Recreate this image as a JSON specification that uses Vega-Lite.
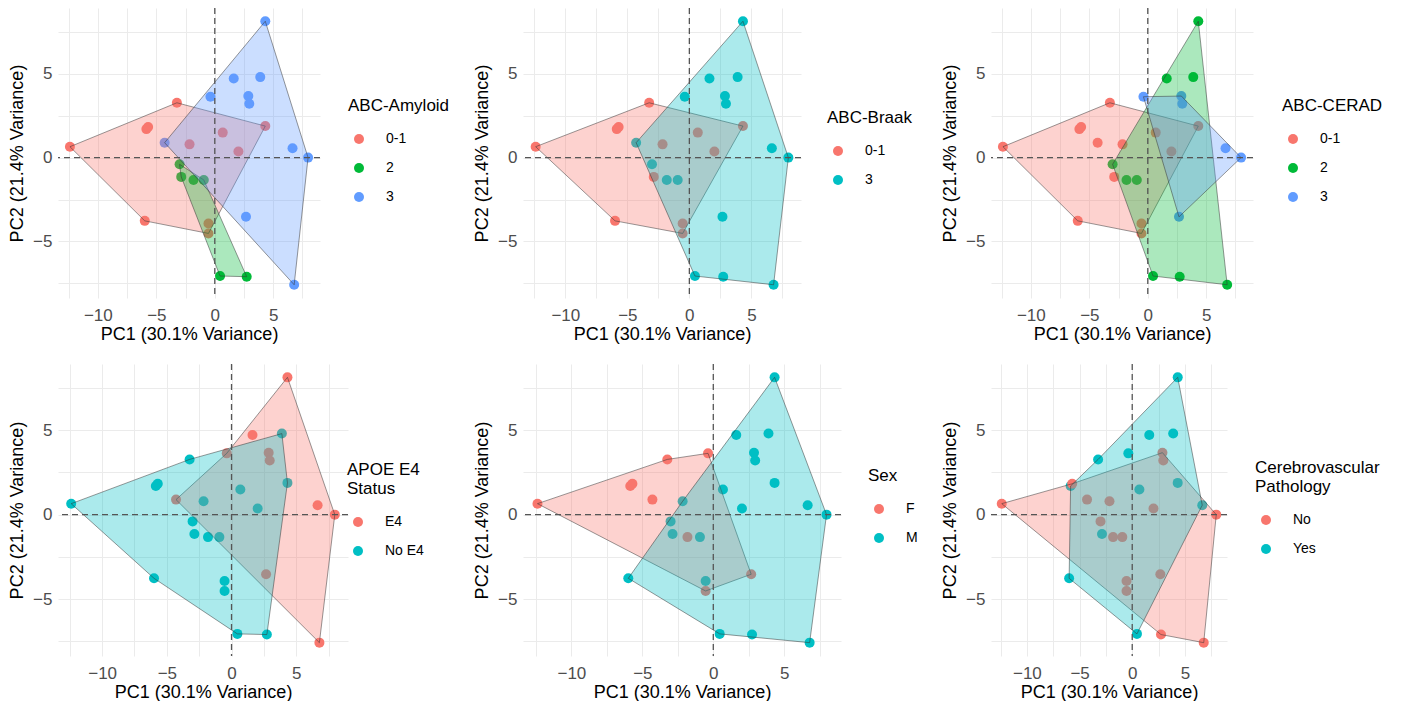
{
  "$schema": "https://vega.github.io/schema/vega-lite/v6.json",
  "padding": {"left": 8, "top": 7, "right": 0, "bottom": 0},
  "autosize": {"type": "pad"},
  "background": "white",
  "columns": 3,
  "align": "each",
  "spacing": {"row": 20, "column": 23},
  "datasets": {
    "pts": [
      {"id": 1, "pc1": -12.39, "pc2": 0.65, "amyloid": "0-1", "braak": "0-1", "cerad": "0-1", "apoe": "No E4", "sex": "F", "cv": "No"},
      {"id": 2, "pc1": -5.85, "pc2": 1.7, "amyloid": "0-1", "braak": "0-1", "cerad": "0-1", "apoe": "No E4", "sex": "F", "cv": "Yes"},
      {"id": 3, "pc1": -5.7, "pc2": 1.83, "amyloid": "0-1", "braak": "0-1", "cerad": "0-1", "apoe": "No E4", "sex": "F", "cv": "No"},
      {"id": 4, "pc1": -3.24, "pc2": 3.27, "amyloid": "0-1", "braak": "0-1", "cerad": "0-1", "apoe": "No E4", "sex": "F", "cv": "Yes"},
      {"id": 5, "pc1": -5.99, "pc2": -3.77, "amyloid": "0-1", "braak": "0-1", "cerad": "0-1", "apoe": "No E4", "sex": "M", "cv": "Yes"},
      {"id": 6, "pc1": -2.16, "pc2": 0.79, "amyloid": "0-1", "braak": "0-1", "cerad": "0-1", "apoe": "No E4", "sex": "M", "cv": "No"},
      {"id": 7, "pc1": 0.68, "pc2": 1.49, "amyloid": "0-1", "braak": "0-1", "cerad": "0-1", "apoe": "No E4", "sex": "M", "cv": "Yes"},
      {"id": 8, "pc1": 2.02, "pc2": 0.36, "amyloid": "0-1", "braak": "0-1", "cerad": "0-1", "apoe": "No E4", "sex": "M", "cv": "No"},
      {"id": 9, "pc1": 4.32, "pc2": 1.88, "amyloid": "0-1", "braak": "0-1", "cerad": "0-1", "apoe": "No E4", "sex": "M", "cv": "Yes"},
      {"id": 10, "pc1": -0.54, "pc2": -3.93, "amyloid": "0-1", "braak": "0-1", "cerad": "0-1", "apoe": "No E4", "sex": "M", "cv": "No"},
      {"id": 11, "pc1": -0.54, "pc2": -4.52, "amyloid": "0-1", "braak": "0-1", "cerad": "0-1", "apoe": "No E4", "sex": "F", "cv": "No"},
      {"id": 12, "pc1": -3.01, "pc2": -0.4, "amyloid": "2", "braak": "3", "cerad": "2", "apoe": "No E4", "sex": "M", "cv": "No"},
      {"id": 13, "pc1": -2.87, "pc2": -1.15, "amyloid": "2", "braak": "0-1", "cerad": "0-1", "apoe": "No E4", "sex": "M", "cv": "Yes"},
      {"id": 14, "pc1": -1.82, "pc2": -1.33, "amyloid": "2", "braak": "3", "cerad": "2", "apoe": "No E4", "sex": "F", "cv": "No"},
      {"id": 15, "pc1": -0.94, "pc2": -1.33, "amyloid": "2", "braak": "3", "cerad": "2", "apoe": "No E4", "sex": "M", "cv": "No"},
      {"id": 16, "pc1": 0.45, "pc2": -7.06, "amyloid": "2", "braak": "3", "cerad": "2", "apoe": "No E4", "sex": "M", "cv": "Yes"},
      {"id": 17, "pc1": 2.73, "pc2": -7.1, "amyloid": "2", "braak": "3", "cerad": "2", "apoe": "No E4", "sex": "M", "cv": "No"},
      {"id": 18, "pc1": 4.32, "pc2": 8.13, "amyloid": "3", "braak": "3", "cerad": "2", "apoe": "E4", "sex": "M", "cv": "Yes"},
      {"id": 19, "pc1": 1.62, "pc2": 4.72, "amyloid": "3", "braak": "3", "cerad": "2", "apoe": "E4", "sex": "M", "cv": "Yes"},
      {"id": 20, "pc1": 3.89, "pc2": 4.8, "amyloid": "3", "braak": "3", "cerad": "2", "apoe": "No E4", "sex": "M", "cv": "Yes"},
      {"id": 21, "pc1": -0.37, "pc2": 3.63, "amyloid": "3", "braak": "3", "cerad": "3", "apoe": "E4", "sex": "F", "cv": "Yes"},
      {"id": 22, "pc1": 2.87, "pc2": 3.67, "amyloid": "3", "braak": "3", "cerad": "3", "apoe": "E4", "sex": "M", "cv": "No"},
      {"id": 23, "pc1": 2.95, "pc2": 3.21, "amyloid": "3", "braak": "3", "cerad": "3", "apoe": "E4", "sex": "M", "cv": "No"},
      {"id": 24, "pc1": -4.29, "pc2": 0.89, "amyloid": "3", "braak": "3", "cerad": "0-1", "apoe": "E4", "sex": "F", "cv": "No"},
      {"id": 25, "pc1": 6.65, "pc2": 0.56, "amyloid": "3", "braak": "3", "cerad": "3", "apoe": "E4", "sex": "M", "cv": "Yes"},
      {"id": 26, "pc1": 7.98, "pc2": 0.0, "amyloid": "3", "braak": "3", "cerad": "3", "apoe": "E4", "sex": "M", "cv": "No"},
      {"id": 27, "pc1": 2.67, "pc2": -3.53, "amyloid": "3", "braak": "3", "cerad": "3", "apoe": "E4", "sex": "F", "cv": "No"},
      {"id": 28, "pc1": 6.79, "pc2": -7.58, "amyloid": "3", "braak": "3", "cerad": "2", "apoe": "E4", "sex": "M", "cv": "No"}
    ],
    "hulls": [
      {"panel": "amyloid", "grp": "0-1", "ord": 1, "pc1": -12.39, "pc2": 0.65},
      {"panel": "amyloid", "grp": "0-1", "ord": 2, "pc1": -3.24, "pc2": 3.27},
      {"panel": "amyloid", "grp": "0-1", "ord": 3, "pc1": 4.32, "pc2": 1.88},
      {"panel": "amyloid", "grp": "0-1", "ord": 4, "pc1": -0.54, "pc2": -4.52},
      {"panel": "amyloid", "grp": "0-1", "ord": 5, "pc1": -5.99, "pc2": -3.77},
      {"panel": "amyloid", "grp": "2", "ord": 1, "pc1": -3.01, "pc2": -0.4},
      {"panel": "amyloid", "grp": "2", "ord": 2, "pc1": -0.94, "pc2": -1.33},
      {"panel": "amyloid", "grp": "2", "ord": 3, "pc1": 2.73, "pc2": -7.1},
      {"panel": "amyloid", "grp": "2", "ord": 4, "pc1": 0.45, "pc2": -7.06},
      {"panel": "amyloid", "grp": "2", "ord": 5, "pc1": -2.87, "pc2": -1.15},
      {"panel": "amyloid", "grp": "3", "ord": 1, "pc1": 4.32, "pc2": 8.13},
      {"panel": "amyloid", "grp": "3", "ord": 2, "pc1": 7.98, "pc2": 0.0},
      {"panel": "amyloid", "grp": "3", "ord": 3, "pc1": 6.79, "pc2": -7.58},
      {"panel": "amyloid", "grp": "3", "ord": 4, "pc1": -4.29, "pc2": 0.89},
      {"panel": "braak", "grp": "0-1", "ord": 1, "pc1": -12.39, "pc2": 0.65},
      {"panel": "braak", "grp": "0-1", "ord": 2, "pc1": -3.24, "pc2": 3.27},
      {"panel": "braak", "grp": "0-1", "ord": 3, "pc1": 4.32, "pc2": 1.88},
      {"panel": "braak", "grp": "0-1", "ord": 4, "pc1": -0.54, "pc2": -4.52},
      {"panel": "braak", "grp": "0-1", "ord": 5, "pc1": -5.99, "pc2": -3.77},
      {"panel": "braak", "grp": "3", "ord": 1, "pc1": 4.32, "pc2": 8.13},
      {"panel": "braak", "grp": "3", "ord": 2, "pc1": 7.98, "pc2": 0.0},
      {"panel": "braak", "grp": "3", "ord": 3, "pc1": 6.79, "pc2": -7.58},
      {"panel": "braak", "grp": "3", "ord": 4, "pc1": 0.45, "pc2": -7.06},
      {"panel": "braak", "grp": "3", "ord": 5, "pc1": -4.29, "pc2": 0.89},
      {"panel": "cerad", "grp": "0-1", "ord": 1, "pc1": -12.39, "pc2": 0.65},
      {"panel": "cerad", "grp": "0-1", "ord": 2, "pc1": -3.24, "pc2": 3.27},
      {"panel": "cerad", "grp": "0-1", "ord": 3, "pc1": 4.32, "pc2": 1.88},
      {"panel": "cerad", "grp": "0-1", "ord": 4, "pc1": -0.54, "pc2": -4.52},
      {"panel": "cerad", "grp": "0-1", "ord": 5, "pc1": -5.99, "pc2": -3.77},
      {"panel": "cerad", "grp": "2", "ord": 1, "pc1": 4.32, "pc2": 8.13},
      {"panel": "cerad", "grp": "2", "ord": 2, "pc1": 6.79, "pc2": -7.58},
      {"panel": "cerad", "grp": "2", "ord": 3, "pc1": 0.45, "pc2": -7.06},
      {"panel": "cerad", "grp": "2", "ord": 4, "pc1": -3.01, "pc2": -0.4},
      {"panel": "cerad", "grp": "3", "ord": 1, "pc1": -0.37, "pc2": 3.63},
      {"panel": "cerad", "grp": "3", "ord": 2, "pc1": 2.87, "pc2": 3.67},
      {"panel": "cerad", "grp": "3", "ord": 3, "pc1": 7.98, "pc2": 0.0},
      {"panel": "cerad", "grp": "3", "ord": 4, "pc1": 2.67, "pc2": -3.53},
      {"panel": "apoe", "grp": "E4", "ord": 1, "pc1": 4.32, "pc2": 8.13},
      {"panel": "apoe", "grp": "E4", "ord": 2, "pc1": 7.98, "pc2": 0.0},
      {"panel": "apoe", "grp": "E4", "ord": 3, "pc1": 6.79, "pc2": -7.58},
      {"panel": "apoe", "grp": "E4", "ord": 4, "pc1": -4.29, "pc2": 0.89},
      {"panel": "apoe", "grp": "E4", "ord": 5, "pc1": -0.37, "pc2": 3.63},
      {"panel": "apoe", "grp": "No E4", "ord": 1, "pc1": -12.39, "pc2": 0.65},
      {"panel": "apoe", "grp": "No E4", "ord": 2, "pc1": -3.24, "pc2": 3.27},
      {"panel": "apoe", "grp": "No E4", "ord": 3, "pc1": 3.89, "pc2": 4.8},
      {"panel": "apoe", "grp": "No E4", "ord": 4, "pc1": 4.32, "pc2": 1.88},
      {"panel": "apoe", "grp": "No E4", "ord": 5, "pc1": 2.73, "pc2": -7.1},
      {"panel": "apoe", "grp": "No E4", "ord": 6, "pc1": 0.45, "pc2": -7.06},
      {"panel": "apoe", "grp": "No E4", "ord": 7, "pc1": -5.99, "pc2": -3.77},
      {"panel": "sex", "grp": "F", "ord": 1, "pc1": -12.39, "pc2": 0.65},
      {"panel": "sex", "grp": "F", "ord": 2, "pc1": -3.24, "pc2": 3.27},
      {"panel": "sex", "grp": "F", "ord": 3, "pc1": -0.37, "pc2": 3.63},
      {"panel": "sex", "grp": "F", "ord": 4, "pc1": 2.67, "pc2": -3.53},
      {"panel": "sex", "grp": "F", "ord": 5, "pc1": -0.54, "pc2": -4.52},
      {"panel": "sex", "grp": "M", "ord": 1, "pc1": 4.32, "pc2": 8.13},
      {"panel": "sex", "grp": "M", "ord": 2, "pc1": 7.98, "pc2": 0.0},
      {"panel": "sex", "grp": "M", "ord": 3, "pc1": 6.79, "pc2": -7.58},
      {"panel": "sex", "grp": "M", "ord": 4, "pc1": 0.45, "pc2": -7.06},
      {"panel": "sex", "grp": "M", "ord": 5, "pc1": -5.99, "pc2": -3.77},
      {"panel": "sex", "grp": "M", "ord": 6, "pc1": -2.16, "pc2": 0.79},
      {"panel": "cv", "grp": "No", "ord": 1, "pc1": -12.39, "pc2": 0.65},
      {"panel": "cv", "grp": "No", "ord": 2, "pc1": -5.7, "pc2": 1.83},
      {"panel": "cv", "grp": "No", "ord": 3, "pc1": 2.87, "pc2": 3.67},
      {"panel": "cv", "grp": "No", "ord": 4, "pc1": 7.98, "pc2": 0.0},
      {"panel": "cv", "grp": "No", "ord": 5, "pc1": 6.79, "pc2": -7.58},
      {"panel": "cv", "grp": "No", "ord": 6, "pc1": 2.73, "pc2": -7.1},
      {"panel": "cv", "grp": "Yes", "ord": 1, "pc1": 4.32, "pc2": 8.13},
      {"panel": "cv", "grp": "Yes", "ord": 2, "pc1": 6.65, "pc2": 0.56},
      {"panel": "cv", "grp": "Yes", "ord": 3, "pc1": 0.45, "pc2": -7.06},
      {"panel": "cv", "grp": "Yes", "ord": 4, "pc1": -5.99, "pc2": -3.77},
      {"panel": "cv", "grp": "Yes", "ord": 5, "pc1": -5.85, "pc2": 1.7},
      {"panel": "cv", "grp": "Yes", "ord": 6, "pc1": -3.24, "pc2": 3.27}
    ]
  },
  "concat": [
    {
      "width": 262, "height": 290,
      "resolve": {"axis": {"x": "independent"}},
      "layer": [
        {"data": {"name": "pts"}, "mark": {"type": "circle", "size": 100, "opacity": 1},
         "encoding": {
           "x": {"field": "pc1", "type": "quantitative", "scale": {"domain": [-13.41, 9.0], "nice": false, "zero": false}, "axis": {"title": "PC1 (30.1% Variance)", "values": [-10, -5, 0, 5], "orient": "bottom"}},
           "y": {"field": "pc2", "type": "quantitative", "scale": {"domain": [-8.37, 8.92], "nice": false, "zero": false}, "axis": {"title": "PC2 (21.4% Variance)", "values": [-7.5, -5, -2.5, 0, 2.5, 5, 7.5], "labelOverlap": false, "labelExpr": "datum.value % 5 == 0 ? datum.label : ''"}},
           "color": {"field": "amyloid", "type": "nominal", "scale": {"domain": ["0-1", "2", "3"], "range": ["#F8766D", "#00BA38", "#619CFF"]}, "legend": {"title": "ABC-Amyloid", "orient": "none", "legendX": 290, "legendY": 90}}
         }},
        {"data": {"name": "hulls"}, "transform": [{"filter": "datum.panel == 'amyloid'"}],
         "mark": {"type": "line", "interpolate": "linear-closed", "fillOpacity": 0.33, "stroke": "#333333", "strokeOpacity": 0.5, "strokeWidth": 1},
         "encoding": {
           "x": {"field": "pc1", "type": "quantitative", "axis": null},
           "y": {"field": "pc2", "type": "quantitative"},
           "order": {"field": "ord", "type": "quantitative"},
           "detail": {"field": "grp", "type": "nominal"},
           "fill": {"field": "grp", "type": "nominal", "scale": {"domain": ["0-1", "2", "3"], "range": ["#F8766D", "#00BA38", "#619CFF"]}, "legend": null}
         }},
        {"data": {"values": [{}]}, "mark": {"type": "rule", "strokeDash": [6, 4], "color": "#555555", "strokeWidth": 1.3}, "encoding": {"x": {"datum": 0, "type": "quantitative", "axis": {"orient": "top", "values": [-12.5, -7.5, -2.5, 2.5, 7.5], "labels": false, "title": null, "grid": true}}}},
        {"data": {"values": [{}]}, "mark": {"type": "rule", "strokeDash": [6, 4], "color": "#555555", "strokeWidth": 1.3}, "encoding": {"y": {"datum": 0}}}
      ]
    },
    {
      "width": 278, "height": 290,
      "resolve": {"axis": {"x": "independent"}},
      "layer": [
        {"data": {"name": "pts"}, "mark": {"type": "circle", "size": 100, "opacity": 1},
         "encoding": {
           "x": {"field": "pc1", "type": "quantitative", "scale": {"domain": [-13.41, 9.0], "nice": false, "zero": false}, "axis": {"title": "PC1 (30.1% Variance)", "values": [-10, -5, 0, 5], "orient": "bottom"}},
           "y": {"field": "pc2", "type": "quantitative", "scale": {"domain": [-8.37, 8.92], "nice": false, "zero": false}, "axis": {"title": "PC2 (21.4% Variance)", "values": [-7.5, -5, -2.5, 0, 2.5, 5, 7.5], "labelOverlap": false, "labelExpr": "datum.value % 5 == 0 ? datum.label : ''"}},
           "color": {"field": "braak", "type": "nominal", "scale": {"domain": ["0-1", "3"], "range": ["#F8766D", "#00BFC4"]}, "legend": {"title": "ABC-Braak", "orient": "none", "legendX": 304, "legendY": 102}}
         }},
        {"data": {"name": "hulls"}, "transform": [{"filter": "datum.panel == 'braak'"}],
         "mark": {"type": "line", "interpolate": "linear-closed", "fillOpacity": 0.33, "stroke": "#333333", "strokeOpacity": 0.5, "strokeWidth": 1},
         "encoding": {
           "x": {"field": "pc1", "type": "quantitative", "axis": null},
           "y": {"field": "pc2", "type": "quantitative"},
           "order": {"field": "ord", "type": "quantitative"},
           "detail": {"field": "grp", "type": "nominal"},
           "fill": {"field": "grp", "type": "nominal", "scale": {"domain": ["0-1", "3"], "range": ["#F8766D", "#00BFC4"]}, "legend": null}
         }},
        {"data": {"values": [{}]}, "mark": {"type": "rule", "strokeDash": [6, 4], "color": "#555555", "strokeWidth": 1.3}, "encoding": {"x": {"datum": 0, "type": "quantitative", "axis": {"orient": "top", "values": [-12.5, -7.5, -2.5, 2.5, 7.5], "labels": false, "title": null, "grid": true}}}},
        {"data": {"values": [{}]}, "mark": {"type": "rule", "strokeDash": [6, 4], "color": "#555555", "strokeWidth": 1.3}, "encoding": {"y": {"datum": 0}}}
      ]
    },
    {
      "width": 262, "height": 290,
      "resolve": {"axis": {"x": "independent"}},
      "layer": [
        {"data": {"name": "pts"}, "mark": {"type": "circle", "size": 100, "opacity": 1},
         "encoding": {
           "x": {"field": "pc1", "type": "quantitative", "scale": {"domain": [-13.41, 9.0], "nice": false, "zero": false}, "axis": {"title": "PC1 (30.1% Variance)", "values": [-10, -5, 0, 5], "orient": "bottom"}},
           "y": {"field": "pc2", "type": "quantitative", "scale": {"domain": [-8.37, 8.92], "nice": false, "zero": false}, "axis": {"title": "PC2 (21.4% Variance)", "values": [-7.5, -5, -2.5, 0, 2.5, 5, 7.5], "labelOverlap": false, "labelExpr": "datum.value % 5 == 0 ? datum.label : ''"}},
           "color": {"field": "cerad", "type": "nominal", "scale": {"domain": ["0-1", "2", "3"], "range": ["#F8766D", "#00BA38", "#619CFF"]}, "legend": {"title": "ABC-CERAD", "orient": "none", "legendX": 291, "legendY": 90}}
         }},
        {"data": {"name": "hulls"}, "transform": [{"filter": "datum.panel == 'cerad'"}],
         "mark": {"type": "line", "interpolate": "linear-closed", "fillOpacity": 0.33, "stroke": "#333333", "strokeOpacity": 0.5, "strokeWidth": 1},
         "encoding": {
           "x": {"field": "pc1", "type": "quantitative", "axis": null},
           "y": {"field": "pc2", "type": "quantitative"},
           "order": {"field": "ord", "type": "quantitative"},
           "detail": {"field": "grp", "type": "nominal"},
           "fill": {"field": "grp", "type": "nominal", "scale": {"domain": ["0-1", "2", "3"], "range": ["#F8766D", "#00BA38", "#619CFF"]}, "legend": null}
         }},
        {"data": {"values": [{}]}, "mark": {"type": "rule", "strokeDash": [6, 4], "color": "#555555", "strokeWidth": 1.3}, "encoding": {"x": {"datum": 0, "type": "quantitative", "axis": {"orient": "top", "values": [-12.5, -7.5, -2.5, 2.5, 7.5], "labels": false, "title": null, "grid": true}}}},
        {"data": {"values": [{}]}, "mark": {"type": "rule", "strokeDash": [6, 4], "color": "#555555", "strokeWidth": 1.3}, "encoding": {"y": {"datum": 0}}}
      ]
    },
    {
      "width": 290, "height": 292,
      "resolve": {"axis": {"x": "independent"}},
      "layer": [
        {"data": {"name": "pts"}, "mark": {"type": "circle", "size": 100, "opacity": 1},
         "encoding": {
           "x": {"field": "pc1", "type": "quantitative", "scale": {"domain": [-13.41, 9.0], "nice": false, "zero": false}, "axis": {"title": "PC1 (30.1% Variance)", "values": [-10, -5, 0, 5], "orient": "bottom"}},
           "y": {"field": "pc2", "type": "quantitative", "scale": {"domain": [-8.37, 8.92], "nice": false, "zero": false}, "axis": {"title": "PC2 (21.4% Variance)", "values": [-7.5, -5, -2.5, 0, 2.5, 5, 7.5], "labelOverlap": false, "labelExpr": "datum.value % 5 == 0 ? datum.label : ''"}},
           "color": {"field": "apoe", "type": "nominal", "scale": {"domain": ["E4", "No E4"], "range": ["#F8766D", "#00BFC4"]}, "legend": {"title": ["APOE E4", "Status"], "orient": "none", "legendX": 289, "legendY": 98}}
         }},
        {"data": {"name": "hulls"}, "transform": [{"filter": "datum.panel == 'apoe'"}],
         "mark": {"type": "line", "interpolate": "linear-closed", "fillOpacity": 0.33, "stroke": "#333333", "strokeOpacity": 0.5, "strokeWidth": 1},
         "encoding": {
           "x": {"field": "pc1", "type": "quantitative", "axis": null},
           "y": {"field": "pc2", "type": "quantitative"},
           "order": {"field": "ord", "type": "quantitative"},
           "detail": {"field": "grp", "type": "nominal"},
           "fill": {"field": "grp", "type": "nominal", "scale": {"domain": ["E4", "No E4"], "range": ["#F8766D", "#00BFC4"]}, "legend": null}
         }},
        {"data": {"values": [{}]}, "mark": {"type": "rule", "strokeDash": [6, 4], "color": "#555555", "strokeWidth": 1.3}, "encoding": {"x": {"datum": 0, "type": "quantitative", "axis": {"orient": "top", "values": [-12.5, -7.5, -2.5, 2.5, 7.5], "labels": false, "title": null, "grid": true}}}},
        {"data": {"values": [{}]}, "mark": {"type": "rule", "strokeDash": [6, 4], "color": "#555555", "strokeWidth": 1.3}, "encoding": {"y": {"datum": 0}}}
      ]
    },
    {
      "width": 318, "height": 292,
      "resolve": {"axis": {"x": "independent"}},
      "layer": [
        {"data": {"name": "pts"}, "mark": {"type": "circle", "size": 100, "opacity": 1},
         "encoding": {
           "x": {"field": "pc1", "type": "quantitative", "scale": {"domain": [-13.41, 9.0], "nice": false, "zero": false}, "axis": {"title": "PC1 (30.1% Variance)", "values": [-10, -5, 0, 5], "orient": "bottom"}},
           "y": {"field": "pc2", "type": "quantitative", "scale": {"domain": [-8.37, 8.92], "nice": false, "zero": false}, "axis": {"title": "PC2 (21.4% Variance)", "values": [-7.5, -5, -2.5, 0, 2.5, 5, 7.5], "labelOverlap": false, "labelExpr": "datum.value % 5 == 0 ? datum.label : ''"}},
           "color": {"field": "sex", "type": "nominal", "scale": {"domain": ["F", "M"], "range": ["#F8766D", "#00BFC4"]}, "legend": {"title": "Sex", "orient": "none", "legendX": 345, "legendY": 104}}
         }},
        {"data": {"name": "hulls"}, "transform": [{"filter": "datum.panel == 'sex'"}],
         "mark": {"type": "line", "interpolate": "linear-closed", "fillOpacity": 0.33, "stroke": "#333333", "strokeOpacity": 0.5, "strokeWidth": 1},
         "encoding": {
           "x": {"field": "pc1", "type": "quantitative", "axis": null},
           "y": {"field": "pc2", "type": "quantitative"},
           "order": {"field": "ord", "type": "quantitative"},
           "detail": {"field": "grp", "type": "nominal"},
           "fill": {"field": "grp", "type": "nominal", "scale": {"domain": ["F", "M"], "range": ["#F8766D", "#00BFC4"]}, "legend": null}
         }},
        {"data": {"values": [{}]}, "mark": {"type": "rule", "strokeDash": [6, 4], "color": "#555555", "strokeWidth": 1.3}, "encoding": {"x": {"datum": 0, "type": "quantitative", "axis": {"orient": "top", "values": [-12.5, -7.5, -2.5, 2.5, 7.5], "labels": false, "title": null, "grid": true}}}},
        {"data": {"values": [{}]}, "mark": {"type": "rule", "strokeDash": [6, 4], "color": "#555555", "strokeWidth": 1.3}, "encoding": {"y": {"datum": 0}}}
      ]
    },
    {
      "width": 236, "height": 292,
      "resolve": {"axis": {"x": "independent"}},
      "layer": [
        {"data": {"name": "pts"}, "mark": {"type": "circle", "size": 100, "opacity": 1},
         "encoding": {
           "x": {"field": "pc1", "type": "quantitative", "scale": {"domain": [-13.41, 9.0], "nice": false, "zero": false}, "axis": {"title": "PC1 (30.1% Variance)", "values": [-10, -5, 0, 5], "orient": "bottom"}},
           "y": {"field": "pc2", "type": "quantitative", "scale": {"domain": [-8.37, 8.92], "nice": false, "zero": false}, "axis": {"title": "PC2 (21.4% Variance)", "values": [-7.5, -5, -2.5, 0, 2.5, 5, 7.5], "labelOverlap": false, "labelExpr": "datum.value % 5 == 0 ? datum.label : ''"}},
           "color": {"field": "cv", "type": "nominal", "scale": {"domain": ["No", "Yes"], "range": ["#F8766D", "#00BFC4"]}, "legend": {"title": ["Cerebrovascular", "Pathology"], "orient": "none", "legendX": 264, "legendY": 96}}
         }},
        {"data": {"name": "hulls"}, "transform": [{"filter": "datum.panel == 'cv'"}],
         "mark": {"type": "line", "interpolate": "linear-closed", "fillOpacity": 0.33, "stroke": "#333333", "strokeOpacity": 0.5, "strokeWidth": 1},
         "encoding": {
           "x": {"field": "pc1", "type": "quantitative", "axis": null},
           "y": {"field": "pc2", "type": "quantitative"},
           "order": {"field": "ord", "type": "quantitative"},
           "detail": {"field": "grp", "type": "nominal"},
           "fill": {"field": "grp", "type": "nominal", "scale": {"domain": ["No", "Yes"], "range": ["#F8766D", "#00BFC4"]}, "legend": null}
         }},
        {"data": {"values": [{}]}, "mark": {"type": "rule", "strokeDash": [6, 4], "color": "#555555", "strokeWidth": 1.3}, "encoding": {"x": {"datum": 0, "type": "quantitative", "axis": {"orient": "top", "values": [-12.5, -7.5, -2.5, 2.5, 7.5], "labels": false, "title": null, "grid": true}}}},
        {"data": {"values": [{}]}, "mark": {"type": "rule", "strokeDash": [6, 4], "color": "#555555", "strokeWidth": 1.3}, "encoding": {"y": {"datum": 0}}}
      ]
    }
  ],
  "resolve": {"scale": {"color": "independent", "fill": "independent", "x": "independent", "y": "independent"}, "legend": {"color": "independent", "fill": "independent"}, "axis": {"x": "independent", "y": "independent"}},
  "config": {
    "view": {"stroke": null},
    "font": "Liberation Sans",
    "axis": {"domain": false, "ticks": false, "grid": true, "gridColor": "#EBEBEB", "gridWidth": 1, "labelFont": "Liberation Sans", "labelFontSize": 17, "labelColor": "#4D4D4D", "labelPadding": 6, "labelFlush": false, "labelOverlap": false, "titleFont": "Liberation Sans", "titleFontSize": 18, "titleFontWeight": "normal", "titleColor": "#000000"},
    "axisX": {"titlePadding": 2, "labelPadding": 9},
    "axisY": {"titlePadding": 6},
    "legend": {"padding": 0, "titleFont": "Liberation Sans", "titleFontSize": 17, "titleFontWeight": "normal", "titleColor": "#000000", "titleLineHeight": 19, "titlePadding": 17, "labelFont": "Liberation Sans", "labelFontSize": 14, "labelColor": "#000000", "symbolType": "circle", "symbolSize": 100, "symbolStrokeWidth": 0, "symbolOpacity": 1, "rowPadding": 15, "symbolOffset": 4, "labelOffset": 20}
  }
}
